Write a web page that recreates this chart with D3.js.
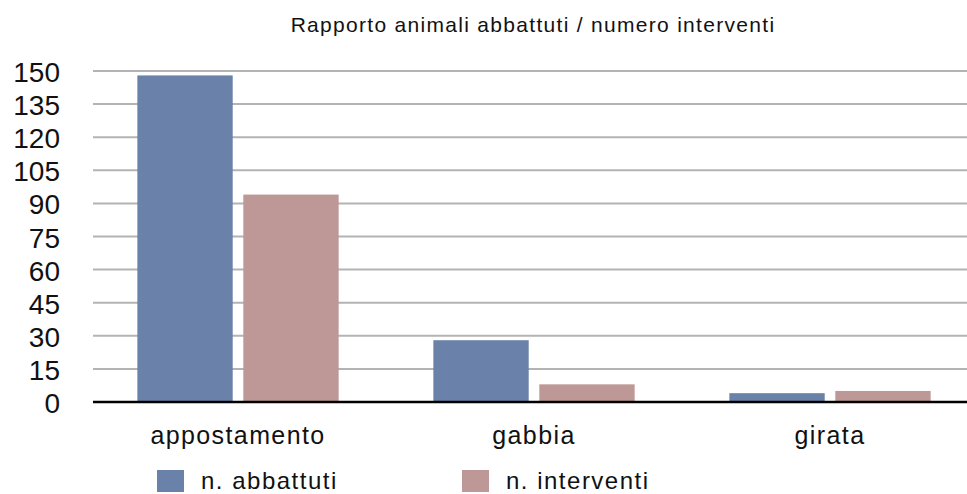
<!DOCTYPE html>
<html><head><meta charset="utf-8">
<script src="https://cdn.jsdelivr.net/npm/d3@7"></script>
<style>body{margin:0;background:#fff}svg{display:block;font-family:"Liberation Sans",Arial,Helvetica,sans-serif}</style>
</head><body>
<svg id="c" width="967" height="494"></svg>
<script>
const categories = ["appostamento", "gabbia", "girata"];
const seriesNames = ["n. abbattuti", "n. interventi"];
const abbattuti = [148, 28, 4];
const interventi = [94, 8, 5];
const yTicks = [0, 15, 30, 45, 60, 75, 90, 105, 120, 135, 150];
const colors = ["#6a82aa", "#bd9896"];
const title = "Rapporto animali abbattuti / numero interventi";

const svg = d3.select("#c");
const plotLeft = 93, plotRight = 967;
const y = d3.scaleLinear().domain([0, 150]).range([402, 71]);
const x0 = d3.scaleBand().domain(categories).range([90, 978]).paddingInner(0.32).paddingOuter(0.16);
const x1 = d3.scaleBand().domain(seriesNames).range([0, x0.bandwidth()]).paddingInner(0.1);

svg.append("text").attr("x", 533).attr("y", 32).attr("text-anchor", "middle")
  .attr("font-size", 21).attr("letter-spacing", 1.3).attr("fill", "#111").text(title);

// gridlines
svg.append("g").selectAll("line").data(yTicks.filter(d => d > 0)).join("line")
  .attr("x1", plotLeft).attr("x2", plotRight)
  .attr("y1", d => y(d)).attr("y2", d => y(d))
  .attr("stroke", "#b3b3b3").attr("stroke-width", 2);

// y labels
svg.append("g").selectAll("text").data(yTicks).join("text")
  .attr("x", 60).attr("y", d => y(d) + 11)
  .attr("text-anchor", "end").attr("font-size", 28).attr("fill", "#111")
  .text(d => d);

const data = categories.map((c, i) => ({c, vals: [abbattuti[i], interventi[i]]}));
const g = svg.append("g").selectAll("g").data(data).join("g")
  .attr("transform", d => `translate(${x0(d.c)},0)`);
g.selectAll("rect").data(d => d.vals.map((v, j) => ({s: seriesNames[j], v, j}))).join("rect")
  .attr("x", d => x1(d.s)).attr("width", x1.bandwidth())
  .attr("y", d => y(d.v)).attr("height", d => y(0) - y(d.v))
  .attr("fill", d => colors[d.j]);

// baseline
svg.append("line").attr("x1", plotLeft).attr("x2", plotRight)
  .attr("y1", y(0)).attr("y2", y(0)).attr("stroke", "#000").attr("stroke-width", 2.5);

// category labels
svg.append("g").selectAll("text").data(categories).join("text")
  .attr("x", d => x0(d) + x0.bandwidth() / 2).attr("y", 444)
  .attr("text-anchor", "middle").attr("font-size", 25).attr("letter-spacing", 1.4)
  .attr("fill", "#111").text(d => d);

// legend
const legX = [157, 462];
const leg = svg.append("g").selectAll("g").data(seriesNames).join("g")
  .attr("transform", (d, i) => `translate(${legX[i]},470)`);
leg.append("rect").attr("width", 27).attr("height", 22).attr("fill", (d, i) => colors[i]);
leg.append("text").attr("x", 44).attr("y", 19).attr("font-size", 24).attr("letter-spacing", 1.5)
  .attr("fill", "#111").text(d => d);
</script>
</body></html>
